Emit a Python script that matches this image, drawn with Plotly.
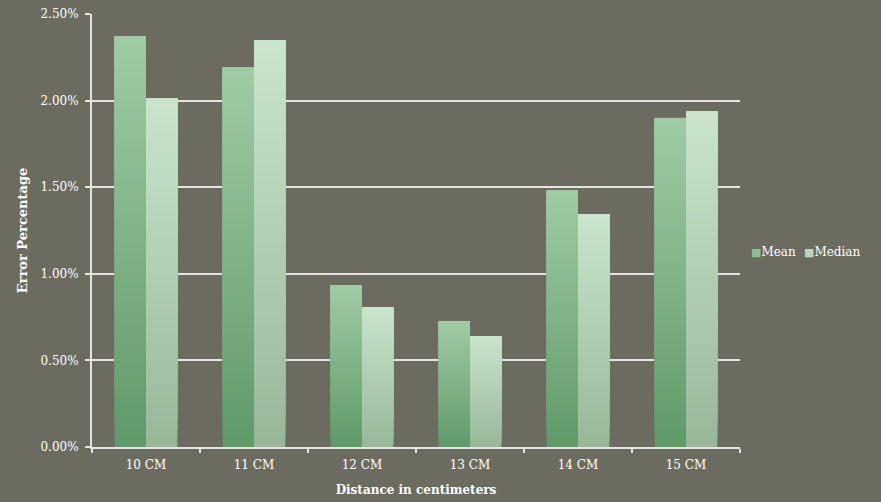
import plotly.graph_objects as go

# Measurement distances and error rates (as fractions)
categories = ["10 CM", "11 CM", "12 CM", "13 CM", "14 CM", "15 CM"]
mean_err = [0.0237, 0.0219, 0.00935, 0.00727, 0.0148, 0.0190]
median_err = [0.0201, 0.0235, 0.00808, 0.00641, 0.01345, 0.0194]
y_ticks = [0.0, 0.005, 0.010, 0.015, 0.020, 0.025]

FONT = "DejaVu Serif"
BG = "#6b6b5f"
LINE = "#e4e4e0"

# bottom -> top colour ramp for each series
ramps = {
    "Mean": ((0x60, 0x9a, 0x69), (0xa1, 0xcc, 0xa6)),
    "Median": ((0x99, 0xb8, 0x9a), (0xca, 0xe5, 0xcc)),
}
N_STEPS = 40


def mix(c0, c1, t):
    return "rgb(%d,%d,%d)" % tuple(round(a + (b - a) * t) for a, b in zip(c0, c1))


fig = go.Figure()
for name, values in (("Mean", mean_err), ("Median", median_err)):
    c0, c1 = ramps[name]
    for k in range(N_STEPS):
        t = k / N_STEPS
        fig.add_trace(go.Bar(
            x=categories,
            y=[v * (1 - t) for v in values],
            base=[v * t for v in values],
            offsetgroup=name,
            name=name,
            showlegend=False,
            marker=dict(color=mix(c0, c1, t), line=dict(width=0)),
            hoverinfo="skip",
        ))

# compact legend: small square swatch followed directly by the series name
legend_items = [("Mean", 1.0135), ("Median", 1.095)]
for name, xpos in legend_items:
    c0, c1 = ramps[name]
    fig.add_annotation(
        xref="paper", yref="paper", x=xpos, y=0.45, xanchor="left", yanchor="middle",
        text="<span style='color:%s;font-size:11px'>■</span>%s" % (mix(c0, c1, 0.7), name),
        showarrow=False, font=dict(size=12, family=FONT, color="white"),
    )

fig.update_layout(
    width=881, height=502,
    margin=dict(l=92, r=141, t=14, b=55, autoexpand=False),
    paper_bgcolor=BG, plot_bgcolor=BG,
    font=dict(family=FONT, color="white", size=12),
    barmode="group", bargap=0.42, bargroupgap=0,
    showlegend=False,
)
fig.update_xaxes(
    showline=True, linecolor=LINE, linewidth=2,
    ticks="outside", tickson="boundaries", ticklen=4, tickcolor=LINE, tickwidth=2,
    ticklabelstandoff=6,
    showgrid=False,
    title=dict(text="<b>Distance in centimeters</b>", font=dict(size=12, family=FONT), standoff=14),
    tickfont=dict(size=12, family=FONT),
)
fig.update_yaxes(
    range=[0, 0.025], tickvals=y_ticks, tickformat=".2%",
    showline=True, linecolor=LINE, linewidth=2,
    showgrid=True, gridcolor=LINE, gridwidth=2, zeroline=False,
    ticks="outside", ticklen=5, tickcolor=LINE, tickwidth=2,
    ticklabelstandoff=4,
    title=dict(text="<b>Error Percentage</b>", font=dict(size=13, family=FONT), standoff=10),
    tickfont=dict(size=12, family=FONT),
)

fig.write_html("out.html")
